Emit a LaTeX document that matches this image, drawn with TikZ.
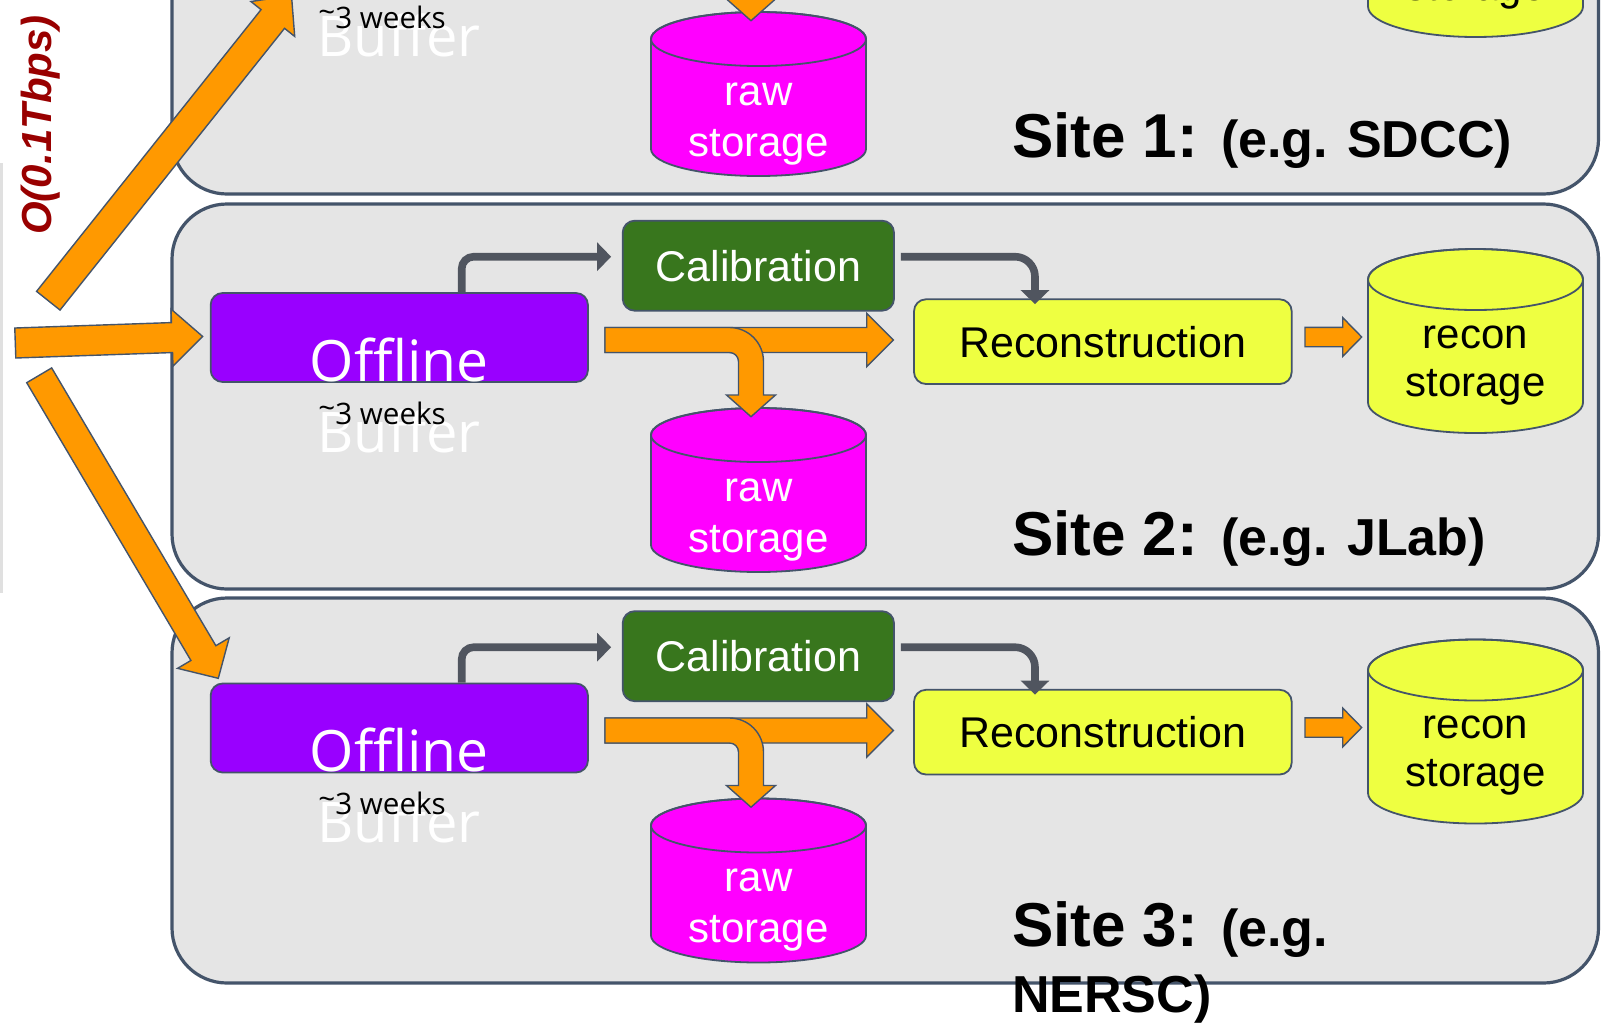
\documentclass[tikz,border=0pt]{standalone}
\usepackage{fontspec}
\setmainfont{Liberation Sans}
\newfontfamily\segoe{Open Sans}
\usetikzlibrary{arrows.meta,calc}

\definecolor{panelfill}{HTML}{E5E5E5}
\definecolor{slate}{HTML}{44546A}
\definecolor{offviolet}{HTML}{9900FF}
\definecolor{calgreen}{HTML}{38761D}
\definecolor{recyellow}{HTML}{EEFF41}
\definecolor{rawmag}{HTML}{FF00FF}
\definecolor{flowor}{HTML}{FF9900}
\definecolor{conngray}{HTML}{50555F}
\definecolor{rateRed}{HTML}{990000}

\newcommand{\sitesmallfont}{\bfseries\fontsize{26}{31}\selectfont}

\tikzset{
  panel/.style={draw=slate, line width=1.6pt, fill=panelfill, rounded corners=27.5pt},
  offbox/.style={draw=slate, line width=0.9pt, fill=offviolet, rounded corners=6pt,
    minimum width=188.65pt, minimum height=44.5pt, inner xsep=0pt, inner ysep=0pt,
    text height=44pt, text depth=0.5pt, text=white, font=\segoe\fontsize{28.5}{34}\selectfont},
  calbox/.style={draw=slate, line width=0.9pt, fill=calgreen, rounded corners=6pt,
    minimum width=135.65pt, minimum height=45pt, inner sep=0pt, text=white,
    font=\fontsize{21.5}{26}\selectfont},
  recbox/.style={draw=slate, line width=0.9pt, fill=recyellow, rounded corners=6pt,
    minimum width=188.85pt, minimum height=42.35pt, inner sep=0pt, text=black,
    font=\fontsize{21.5}{26}\selectfont},
  cyl/.style={draw=slate, line width=0.9pt},
  cyltext/.style={anchor=base, inner sep=0pt, font=\fontsize{21}{25}\selectfont},
  buftext/.style={anchor=base west, inner sep=0pt, text=white, font=\segoe\fontsize{28}{34}\selectfont},
  wktext/.style={anchor=base west, inner sep=0pt, text=black, font=\segoe\fontsize{14.8}{18}\selectfont},
  sitebig/.style={anchor=base west, inner sep=0pt, font=\bfseries\fontsize{31}{37}\selectfont},
  orangearrow/.style={draw=slate, line width=0.7pt, fill=flowor, line join=miter},
  grayconn/.style={draw=conngray, line width=3.8pt, -{Triangle[length=7pt,width=14pt]}},
}

% block arrow: tail, tip, shaft half width, head length, head half width
\newcommand{\fatarrow}[5]{%
  \coordinate (fah) at ($(#2)!#4!(#1)$);
  \draw[orangearrow] ($(#1)!#3!90:(#2)$) -- ($(fah)!#3!90:(#2)$) -- ($(fah)!#5!90:(#2)$)
    -- (#2) -- ($(fah)!#5!-90:(#2)$) -- ($(fah)!#3!-90:(#2)$) -- ($(#1)!#3!-90:(#2)$) -- cycle;}

% one site's content; #1 = suffix, #2 = vertical shift
\newcommand{\sitecontent}[2]{%
\begin{scope}[yshift=#2]
  % raw storage
  \draw[cyl, fill=rawmag] (651,435) -- (651,545)
     arc[start angle=180,end angle=360,x radius=53.75pt,y radius=13.5pt] -- (866,435)
     arc[start angle=0,end angle=180,x radius=53.75pt,y radius=13.5pt] -- cycle;
  \draw[cyl] (758.5,435) ellipse[x radius=53.75pt,y radius=13.5pt];
  \coordinate (raw#1) at (758.5,408);
  % recon storage
  \draw[cyl, fill=recyellow] (1368,279.5) -- (1368,402.5)
     arc[start angle=180,end angle=360,x radius=53.75pt,y radius=15.25pt] -- (1583,279.5)
     arc[start angle=0,end angle=180,x radius=53.75pt,y radius=15.25pt] -- cycle;
  \draw[cyl] (1475.5,279.5) ellipse[x radius=53.75pt,y radius=15.25pt];
  \coordinate (recst#1) at (1368,337);
  % boxes
  \node[offbox] (off#1) at (399.3,337.5) {Offline};
  \node[calbox] (cal#1) at (758.35,265.7) {Calibration};
  \node[recbox] (rec#1) at (1102.85,341.65) {Reconstruction};
  % gray connectors
  \coordinate (ga#1) at (461.7,256.7);
  \coordinate (gb#1) at (1035,256.7);
  \draw[grayconn, rounded corners=6pt, shorten >=5.35pt] (off#1.north -| ga#1) -- (ga#1) -- (cal#1.west |- ga#1);
  \draw[grayconn, rounded corners=10pt, shorten <=3pt, shorten >=-2.85pt] (cal#1.east |- gb#1) -- (gb#1) -- (rec#1.north -| gb#1);
  % orange flows
  \coordinate (mat#1) at (605,340);
  \coordinate (mah#1) at (893.3,340);
  \fatarrow{mat#1}{mah#1}{6.25pt}{13.3pt}{13.3pt}
  \draw[orangearrow] (605,327.5) -- (729.5,327.5) arc[start angle=90,end angle=0,radius=17pt]
     -- (763.5,395) -- (775.5,395) -- (751,416.7) -- (726.5,395) -- (738.5,395) -- (738.5,361.5)
     arc[start angle=0,end angle=90,radius=4.5pt] -- (605,352.5) -- cycle;
  \coordinate (sat#1) at (1305,337);
  \coordinate (sah#1) at (1361.7,337);
  \fatarrow{sat#1}{sah#1}{4.85pt}{9.5pt}{9.7pt}
  % texts
  \node[buftext] (buf#1) at (317,452) {Buffer};
  \node[wktext] (wk#1) at (318,424) {\raisebox{0.17em}{\textasciitilde}3 weeks};
  \node[cyltext, text=white] (rawa#1) at (758.5,501) {raw};
  \node[cyltext, text=white] (rawb#1) at (758.5,552) {storage};
  \node[cyltext, text=black] (reca#1) at (1475.5,348) {recon};
  \node[cyltext, text=black] (recb#1) at (1475.5,396) {storage};
\end{scope}}

\begin{document}
\begin{tikzpicture}[x=0.5pt,y=-0.5pt]
  \useasboundingbox (0,0) rectangle (1601,1024);
  \clip (0,0) rectangle (1601,1024);
  \fill[white] (0,0) rectangle (1601,1024);
  \fill[black!12] (0,163) rectangle (3,593);
  % site panels
  \draw[panel] (172,-191) rectangle (1598.5,194);
  \draw[panel] (172,204) rectangle (1598.5,589);
  \draw[panel] (172,598) rectangle (1598.5,983);
  % contents
  \sitecontent{1}{198pt}
  \sitecontent{2}{0pt}
  \sitecontent{3}{-195.25pt}
  % site labels
  \node[sitebig] (site1) at (1011.7,157) {Site 1: {\sitesmallfont (e.g. SDCC)}};
  \node[sitebig] (site2) at (1011.7,555) {Site 2: {\sitesmallfont (e.g. JLab)}};
  \node[sitebig] (site3) at (1011.7,946) {Site 3: {\sitesmallfont (e.g.}};
  \node[sitebig] (site3b) at (1011.7,1012) {\sitesmallfont NERSC)};
  % incoming flows
  \coordinate (srcU) at (48.3,300.7);
  \coordinate (dstU) at (291.5,-4.5);
  \coordinate (srcM) at (15.3,343);
  \coordinate (dstM) at (202.7,336.5);
  \coordinate (srcL) at (39.2,375.3);
  \coordinate (dstL) at (218.3,678.3);
  \fatarrow{srcU}{dstU}{7.5pt}{15pt}{14pt}
  \fatarrow{srcM}{dstM}{7.5pt}{15.35pt}{14.25pt}
  \fatarrow{srcL}{dstL}{7.25pt}{14.65pt}{15pt}
  \node[rotate=90, inner sep=0pt, text=rateRed, font=\bfseries\itshape\fontsize{21}{25}\selectfont] (rate) at (40.7,125) {O(0.1Tbps)};
\end{tikzpicture}
\end{document}
